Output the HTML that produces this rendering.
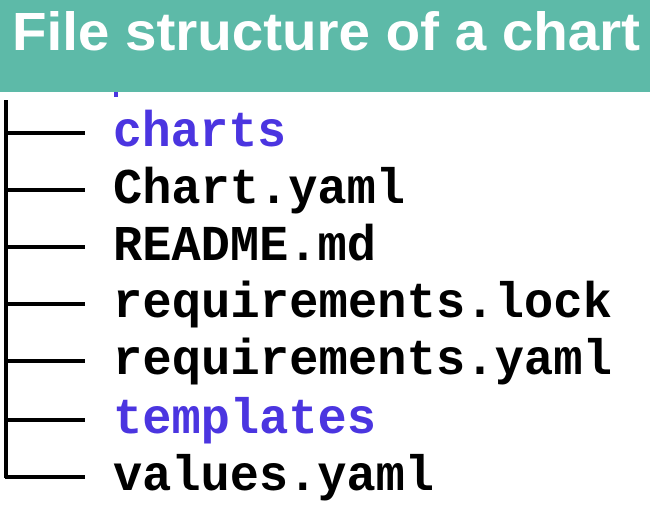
<!DOCTYPE html>
<html><head><meta charset="utf-8"><style>
html,body{margin:0;padding:0;background:#fff;width:650px;height:506px;overflow:hidden}
</style></head><body>
<svg width="650" height="506" viewBox="0 0 650 506" xmlns="http://www.w3.org/2000/svg">
<rect x="0" y="0" width="650" height="92" fill="#5dbaa8"/>
<text x="12" y="50" font-family="Liberation Sans, sans-serif" font-weight="bold" font-size="54" fill="#fff" textLength="628" lengthAdjust="spacingAndGlyphs">File structure of a chart</text>
<rect x="114" y="92" width="4" height="5" fill="#4b35e0"/>
<g stroke="#000" stroke-width="4" fill="none">
<line x1="6" y1="100" x2="6" y2="478"/>
<line x1="5" y1="133" x2="85" y2="133"/>
<line x1="5" y1="190" x2="85" y2="190"/>
<line x1="5" y1="247" x2="85" y2="247"/>
<line x1="5" y1="304" x2="85" y2="304"/>
<line x1="5" y1="361" x2="85" y2="361"/>
<line x1="5" y1="420" x2="85" y2="420"/>
<line x1="5" y1="477" x2="85" y2="477"/>
</g>
<g font-family="Liberation Mono, monospace" font-weight="bold" font-size="50">
<text x="113" y="146" fill="#4b35e0" textLength="173" lengthAdjust="spacingAndGlyphs">charts</text>
<text x="113" y="203" fill="#000" textLength="292" lengthAdjust="spacingAndGlyphs">Chart.yaml</text>
<text x="113" y="260" fill="#000" textLength="263" lengthAdjust="spacingAndGlyphs">README.md</text>
<text x="113" y="317" fill="#000" textLength="499" lengthAdjust="spacingAndGlyphs">requirements.lock</text>
<text x="113" y="374" fill="#000" textLength="499" lengthAdjust="spacingAndGlyphs">requirements.yaml</text>
<text x="113" y="433" fill="#4b35e0" textLength="263" lengthAdjust="spacingAndGlyphs">templates</text>
<text x="113" y="490" fill="#000" textLength="321" lengthAdjust="spacingAndGlyphs">values.yaml</text>
</g>
</svg>
</body></html>
